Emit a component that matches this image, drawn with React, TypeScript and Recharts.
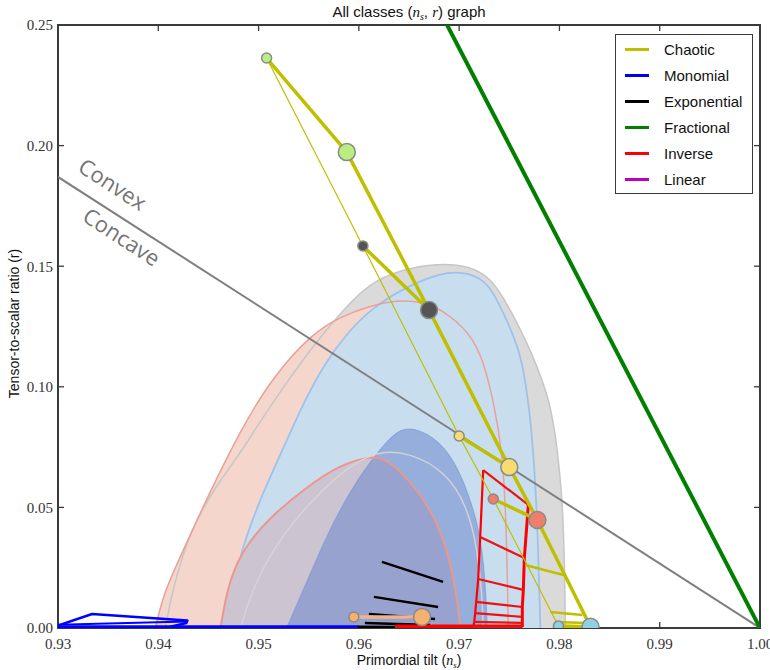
import { ScatterChart, Scatter, XAxis, YAxis, Legend, ReferenceDot, ReferenceArea, ReferenceLine } from "recharts"

type Pt = [number, number]

const X_TICKS = [0.93, 0.94, 0.95, 0.96, 0.97, 0.98, 0.99, 1.0]
const Y_TICKS = [0, 0.05, 0.1, 0.15, 0.2, 0.25]

// observational contours, outlines as (ns, r)
const grayOuter: Pt[] = [
  [0.9407, 0], [0.9414, 0.0158], [0.9432, 0.0406], [0.9456, 0.058], [0.9484, 0.0738],
  [0.9496, 0.0821], [0.9523, 0.0987], [0.9551, 0.1153], [0.9584, 0.1318], [0.9611, 0.143],
  [0.9641, 0.1484], [0.9678, 0.1513], [0.9711, 0.1501], [0.9731, 0.1451], [0.9744, 0.1372],
  [0.9759, 0.1256], [0.9771, 0.1153], [0.9791, 0.0945], [0.9798, 0.0738], [0.9803, 0.0531],
  [0.9805, 0.0282], [0.9806, 0],
]
const pinkOuter: Pt[] = [
  [0.9397, 0], [0.9405, 0.0137], [0.9419, 0.0269], [0.9449, 0.0543], [0.9482, 0.0821],
  [0.9514, 0.1041], [0.9554, 0.1223], [0.9581, 0.1289], [0.9611, 0.1335], [0.9638, 0.136],
  [0.9664, 0.1352], [0.9684, 0.1318], [0.9711, 0.1223], [0.9724, 0.1111], [0.9734, 0.0945],
  [0.9743, 0.0738], [0.9747, 0.0448], [0.9749, 0],
]
const lightBlue: Pt[] = [
  [0.947, 0], [0.9474, 0.0158], [0.9482, 0.0311], [0.9501, 0.0531], [0.9524, 0.0738],
  [0.9546, 0.0945], [0.9568, 0.1111], [0.9591, 0.1235], [0.9611, 0.1318], [0.9641, 0.1401],
  [0.9681, 0.1476], [0.9711, 0.1476], [0.9731, 0.1422], [0.9744, 0.1306], [0.9761, 0.1153],
  [0.9769, 0.0945], [0.9774, 0.0738], [0.9778, 0.0448], [0.9781, 0],
]
const pinkInner: Pt[] = [
  [0.9462, 0], [0.9469, 0.017], [0.9482, 0.0311], [0.9508, 0.0448], [0.9548, 0.0585],
  [0.9581, 0.0676], [0.9611, 0.0712], [0.9625, 0.0705], [0.9644, 0.0643], [0.9671, 0.0502],
  [0.9688, 0.0336], [0.9698, 0.0129], [0.9701, 0],
]
const darkBlue: Pt[] = [
  [0.9528, 0], [0.9551, 0.022], [0.9574, 0.0439], [0.9601, 0.0634], [0.9624, 0.0755],
  [0.964, 0.0828], [0.966, 0.0828], [0.9686, 0.0755], [0.9704, 0.0622], [0.9721, 0.0406],
  [0.9726, 0.0199], [0.9728, 0],
]
const grayInner: Pt[] = [
  [0.9482, 0], [0.9491, 0.0129], [0.9514, 0.0336], [0.9561, 0.0572], [0.9611, 0.0738],
  [0.9651, 0.073], [0.9688, 0.0643], [0.9708, 0.0502], [0.9718, 0.0336], [0.9723, 0.0129],
  [0.9724, 0],
]

// model predictions
const convexLine: Pt[] = [[0.93, 0.187], [1.0, 0]]
const fractional: Pt[] = [[0.9688, 0.25], [1.0, 0]]

const monomialLoop: Pt[] = [[0.93, 0.001], [0.9334, 0.0058], [0.9429, 0.0031], [0.9428, 0.0021], [0.9412, 0.0005]]
const monomialInner: Pt[] = [[0.93, 0.0013], [0.9429, 0.0027]]
const monomialBase: Pt[] = [[0.93, 0.0004], [0.96, 0.0004]]

const exponential: [Pt, Pt][] = [
  [[0.9623, 0.0274], [0.9684, 0.0191]],
  [[0.9615, 0.0129], [0.9679, 0.0087]],
  [[0.961, 0.0058], [0.9676, 0.0037]],
  [[0.9606, 0.0021], [0.9671, 0.0012]],
  [[0.9599, 0.0005], [0.9668, 0.0003]],
]

const inverseLeft: Pt[] = [
  [0.9724, 0.0655], [0.9721, 0.0377], [0.9719, 0.0203], [0.9717, 0.0108],
  [0.9716, 0.0062], [0.9715, 0.0025], [0.9714, 0.0004],
]
const inverseRight: Pt[] = [
  [0.9769, 0.051], [0.9765, 0.029], [0.9764, 0.0158], [0.9763, 0.0087],
  [0.9763, 0.0046], [0.9763, 0.0021], [0.9763, 0.0004],
]
const inverseBase: Pt[] = [[0.9636, 0.0006], [0.9763, 0.0006]]

// chaotic: small markers (N=50) and big markers (N=60)
const chaoticN50 = [
  { name: "green", x: 0.9508, y: 0.2363 },
  { name: "gray", x: 0.9604, y: 0.1584 },
  { name: "yellow", x: 0.97, y: 0.0796 },
  { name: "red", x: 0.9734, y: 0.0535 },
  { name: "blue", x: 0.9799, y: 0.0008 },
  { name: "orange", x: 0.9595, y: 0.0046 },
]
const chaoticN60 = [
  { name: "green", x: 0.9588, y: 0.1973 },
  { name: "gray", x: 0.967, y: 0.1318 },
  { name: "yellow", x: 0.975, y: 0.0667 },
  { name: "red", x: 0.9778, y: 0.0448 },
  { name: "blue", x: 0.9831, y: 0.0005 },
  { name: "orange", x: 0.9663, y: 0.0046 },
]
const chaoticRungs: [Pt, Pt][] = [
  [[0.9766, 0.0261], [0.9804, 0.022]],
  [[0.9791, 0.0066], [0.9823, 0.0054]],
  [[0.9796, 0.0025], [0.9827, 0.0021]],
]

const MARKER_COLORS: Record<string, string> = {
  green: "#b9ef80",
  gray: "#545454",
  yellow: "#f7dc70",
  red: "#ef7e6e",
  blue: "#8fd0e2",
  orange: "#f5b171",
}

const LEGEND = [
  { name: "Chaotic", color: "#bfbf00" },
  { name: "Monomial", color: "#0000ff" },
  { name: "Exponential", color: "#000000" },
  { name: "Fractional", color: "#008000" },
  { name: "Inverse", color: "#ff0000" },
  { name: "Linear", color: "#bf00bf" },
]

const YELLOW = "#bfbf00"
const AXIS = "#3a3a3a"
const SANS = "Liberation Sans, Arial, sans-serif"
const SERIF = "Liberation Serif, serif"
// inward tick length in data units (about 6px each way)
const TICK_DX = 0.0006
const TICK_DY = 0.0025

const pts = (a: Pt[]) => a.map(([x, y]) => ({ x, y }))
const hidden = () => <g />

function path(key: string, data: Pt[], style: any, curve: any = "linear") {
  return (
    <Scatter
      key={key}
      data={pts(data)}
      line={style}
      lineJointType={curve}
      shape={hidden}
      legendType="none"
      isAnimationActive={false}
    />
  )
}

function tickMark(key: string, a: Pt, b: Pt) {
  return (
    <ReferenceLine
      key={key}
      segment={[{ x: a[0], y: a[1] }, { x: b[0], y: b[1] }]}
      stroke={AXIS}
      strokeWidth={1.3}
      ifOverflow="visible"
    />
  )
}

const marker = (r: number) => (p: any) =>
  <circle cx={p.cx} cy={p.cy} r={r} fill={MARKER_COLORS[p.payload.name]} stroke="#8a8a8a" strokeWidth={1.5} />

function LegendBox() {
  return (
    <div
      style={{
        width: 138,
        height: 160,
        boxSizing: "border-box",
        border: `1.5px solid ${AXIS}`,
        background: "#fff",
        paddingTop: 1,
        fontFamily: SANS,
      }}
    >
      {LEGEND.map((l) => (
        <div key={l.name} style={{ display: "flex", alignItems: "center", height: 26 }}>
          <div style={{ width: 24, height: 3, background: l.color, marginLeft: 9, marginRight: 15 }} />
          <span style={{ fontSize: 15, color: "#111" }}>{l.name}</span>
        </div>
      ))}
    </div>
  )
}

const rotatedText = (text: string) => (props: any) => {
  const vb = props.viewBox || props
  const cx = vb.x + (vb.width || 0) / 2
  const cy = vb.y + (vb.height || 0) / 2
  return (
    <text
      x={cx}
      y={cy}
      transform={`rotate(33 ${cx} ${cy})`}
      textAnchor="middle"
      dominantBaseline="central"
      fontSize={22}
      fontFamily="Open Sans, sans-serif"
      fill="#757575"
    >
      {text}
    </text>
  )
}

// x label, plus the title centred over the same plot width
const xLabel = (props: any) => {
  const vb = props.viewBox || props
  const cx = vb.x + vb.width / 2
  return (
    <g>
      <text x={cx} y={17} textAnchor="middle" fontSize={15} fontFamily={SANS} fill="#111">
        All classes (
        <tspan fontFamily={SERIF} fontStyle="italic">n</tspan>
        <tspan fontFamily={SERIF} fontStyle="italic" fontSize={10} dy={3}>s</tspan>
        <tspan dy={-3}>, </tspan>
        <tspan fontFamily={SERIF} fontStyle="italic">r</tspan>
        ) graph
      </text>
      <text x={cx} y={vb.y + 37} textAnchor="middle" fontSize={14} fontFamily={SANS} fill="#111">
        Primordial tilt (
        <tspan fontFamily={SERIF} fontStyle="italic">n</tspan>
        <tspan fontFamily={SERIF} fontStyle="italic" fontSize={9} dy={3}>s</tspan>
        <tspan dy={-3}>)</tspan>
      </text>
    </g>
  )
}

const yLabel = (props: any) => {
  const vb = props.viewBox || props
  const cy = vb.y + vb.height / 2 - 3
  return (
    <text x={19} y={cy} transform={`rotate(-90 19 ${cy})`} textAnchor="middle" fontSize={14} fontFamily={SANS} fill="#111">
      Tensor-to-scalar ratio (r)
    </text>
  )
}

const tickFont = { fontSize: 15, fontFamily: SERIF, fontWeight: 400, fill: "#333" }

const bottomTick = (p: any) => (
  <text x={p.x} y={p.y} dy="0.71em" textAnchor="middle" {...tickFont}>
    {Number(p.payload.value).toFixed(2)}
  </text>
)
const leftTick = (p: any) => (
  <text x={p.x + 5} y={p.y} dy="0.355em" textAnchor="end" {...tickFont}>
    {Number(p.payload.value).toFixed(2)}
  </text>
)

export default function App() {
  const thin = chaoticN50.filter((d) => d.name !== "orange")
  const thick = chaoticN60.filter((d) => d.name !== "orange")
  return (
    <div style={{ position: "absolute", left: 0, top: 0, width: 770, height: 670, background: "#fff" }}>
      <ScatterChart width={770} height={670} margin={{ top: 25, right: 10, bottom: 0, left: 0 }}>
        <XAxis
          type="number"
          dataKey="x"
          domain={[0.93, 1.0]}
          ticks={X_TICKS}
          interval={0}
          height={42}
          tickSize={0}
          tickMargin={10}
          tickLine={false}
          tick={bottomTick}
          axisLine={false}
          label={xLabel}
          allowDataOverflow
        />
        <YAxis
          type="number"
          dataKey="y"
          domain={[0, 0.25]}
          ticks={Y_TICKS}
          interval={0}
          width={58}
          tickSize={0}
          tickMargin={10}
          tickLine={false}
          tick={leftTick}
          axisLine={false}
          label={yLabel}
          allowDataOverflow
        />
        <Legend
          layout="vertical"
          align="center"
          verticalAlign="middle"
          content={() => <LegendBox />}
          wrapperStyle={{ top: 34, left: 615, width: 138, height: 160 }}
        />

        {path("grayOuterFill", grayOuter, { fill: "#dadada", stroke: "none" }, "basis")}
        {path("pinkOuterFill", pinkOuter, { fill: "#f4d6cd", stroke: "none" }, "basis")}
        {path("grayOuterLine", grayOuter, { fill: "none", stroke: "#c6c6c6", strokeWidth: 1.5 }, "basis")}
        {path("lightBlue", lightBlue, { fill: "#c8deef", stroke: "#9ec2ea", strokeWidth: 1.8 }, "basis")}
        {path("pinkOuterLine", pinkOuter, { fill: "none", stroke: "#eba096", strokeWidth: 1.5 }, "basis")}
        {path("pinkInnerFill", pinkInner, { fill: "#cdc4d2", stroke: "none" }, "basis")}
        {path("darkBlue", darkBlue, { fill: "rgba(110,135,202,0.55)", stroke: "rgba(120,150,220,0.6)", strokeWidth: 1.2 }, "basis")}
        {path("pinkInnerLine", pinkInner, { fill: "none", stroke: "#eb978c", strokeWidth: 2 }, "basis")}
        {path("grayInnerLine", grayInner, { fill: "none", stroke: "rgba(214,214,214,0.9)", strokeWidth: 1.5 }, "basis")}

        {path("convex", convexLine, { stroke: "#7f7f7f", strokeWidth: 2 })}
        {path("fractional", fractional, { stroke: "#007f00", strokeWidth: 4 })}

        {path("monoBase", monomialBase, { stroke: "#0000ff", strokeWidth: 3.5 })}
        {path("monoLoop", monomialLoop, { stroke: "#0000ff", strokeWidth: 2.5, strokeLinejoin: "round" })}
        {path("monoInner", monomialInner, { stroke: "#0000ff", strokeWidth: 2 })}

        {exponential.map((seg, i) => path(`exp${i}`, seg, { stroke: "#000", strokeWidth: 2.5 }))}

        {path("invBase", inverseBase, { stroke: "#ff0000", strokeWidth: 4 })}
        {path("invLeft", inverseLeft, { stroke: "#ff0000", strokeWidth: 2.2 })}
        {path("invRight", inverseRight, { stroke: "#ff0000", strokeWidth: 3 })}
        {inverseLeft.map((p, i) => path(`invRung${i}`, [p, inverseRight[i]], { stroke: "#ee1111", strokeWidth: 2.2 }))}

        {path("chaoticThin", thin.map((d) => [d.x, d.y] as Pt), { stroke: YELLOW, strokeWidth: 1.2 })}
        {path("chaoticThick", thick.map((d) => [d.x, d.y] as Pt), { stroke: YELLOW, strokeWidth: 3.5 })}
        {chaoticRungs.map((seg, i) => path(`rung${i}`, seg, { stroke: YELLOW, strokeWidth: 2.5 }))}
        {chaoticN50.map((d, i) =>
          path(
            `pair${i}`,
            [[d.x, d.y], [chaoticN60[i].x, chaoticN60[i].y]],
            { stroke: d.name === "orange" ? "#f0b38c" : YELLOW, strokeWidth: 3.5 },
          ),
        )}

        <Scatter data={chaoticN50} shape={marker(5)} legendType="none" isAnimationActive={false} />
        <Scatter data={chaoticN60} shape={marker(8.5)} legendType="none" isAnimationActive={false} />

        <ReferenceDot x={0.9355} y={0.1843} r={0} fill="none" stroke="none" label={rotatedText("Convex")} />
        <ReferenceDot x={0.9364} y={0.1625} r={0} fill="none" stroke="none" label={rotatedText("Concave")} />

        {X_TICKS.slice(1, -1).map((t) => tickMark(`tb${t}`, [t, 0], [t, TICK_DY]))}
        {X_TICKS.slice(1, -1).map((t) => tickMark(`tt${t}`, [t, 0.25], [t, 0.25 - TICK_DY]))}
        {Y_TICKS.slice(1, -1).map((t) => tickMark(`tl${t}`, [0.93, t], [0.93 + TICK_DX, t]))}
        {Y_TICKS.slice(1, -1).map((t) => tickMark(`tr${t}`, [1.0, t], [1.0 - TICK_DX, t]))}

        <ReferenceArea x1={0.93} x2={1.0} y1={0} y2={0.25} fill="none" stroke={AXIS} strokeWidth={2} ifOverflow="visible" />
      </ScatterChart>
    </div>
  )
}
